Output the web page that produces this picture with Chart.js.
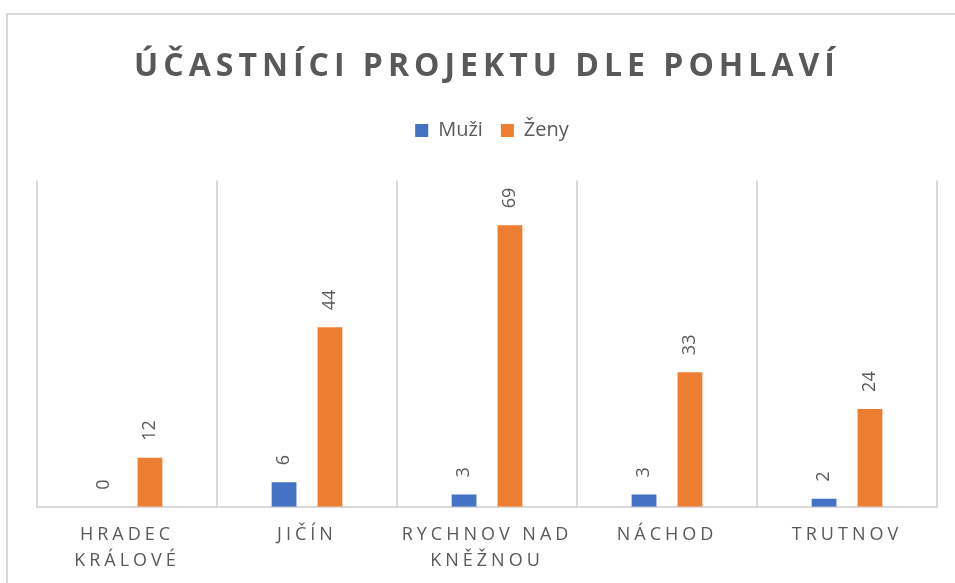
<!DOCTYPE html>
<html>
<head>
<meta charset="utf-8">
<script src="https://cdn.jsdelivr.net/npm/chart.js@4.4.1/dist/chart.umd.min.js"></script>
<style>
html, body { margin: 0; padding: 0; background: #fff; overflow: hidden; }
#frame { position: absolute; left: 6px; top: 13px; width: 2000px; height: 2000px; border: 2px solid #d9d9d9; }
#wrap { position: absolute; left: 0; top: 0; width: 955px; height: 583px; }
</style>
</head>
<body>
<div id="frame"></div>
<div id="wrap"><canvas id="chart"></canvas></div>
<script>
var categories = [['HRADEC', 'KRÁLOVÉ'], 'JIČÍN', ['RYCHNOV NAD', 'KNĚŽNOU'], 'NÁCHOD', 'TRUTNOV'];
var muzi = [0, 6, 3, 3, 2];
var zeny = [12, 44, 69, 33, 24];

Chart.defaults.font.family = '"Open Sans", sans-serif';
Chart.defaults.color = '#595959';

// wrap a draw method so its text gets letter spacing
function spaced(obj, name, spacing) {
    if (!obj || obj['_sp_' + name]) return;
    var orig = obj[name];
    obj['_sp_' + name] = true;
    obj[name] = function () {
        var c = this.ctx;
        var prev = c.letterSpacing;
        c.letterSpacing = spacing;
        var r = orig.apply(this, arguments);
        c.letterSpacing = prev || '0px';
        return r;
    };
}

var letterSpacing = {
    id: 'letterSpacing',
    beforeDraw: function (chart) {
        spaced(chart.titleBlock, 'draw', '5px');
        spaced(chart.scales.x, 'drawLabels', '4px');
    }
};

// extra room between legend and plot, legend nudged a bit right
var legendSpace = {
    id: 'legendSpace',
    beforeLayout: function (chart) {
        var lg = chart.legend;
        if (!lg || lg._spaced) return;
        lg._spaced = true;
        var fit = lg.fit;
        lg.fit = function () {
            fit.call(this);
            this.height += 32;
        };
        var draw = lg.draw;
        lg.draw = function () {
            this.ctx.save();
            this.ctx.translate(5, 2);
            draw.apply(this, arguments);
            this.ctx.restore();
        };
    }
};

// rotated value labels above bars
var barLabels = {
    id: 'barLabels',
    afterDatasetsDraw: function (chart) {
        var ctx = chart.ctx;
        ctx.save();
        ctx.font = '18px "Open Sans"';
        ctx.fillStyle = '#595959';
        ctx.textAlign = 'left';
        ctx.textBaseline = 'middle';
        chart.data.datasets.forEach(function (ds, i) {
            chart.getDatasetMeta(i).data.forEach(function (bar, j) {
                ctx.save();
                ctx.translate(bar.x, bar.y - 17);
                ctx.rotate(-Math.PI / 2);
                ctx.fillText(String(ds.data[j]), 0, 0);
                ctx.restore();
            });
        });
        ctx.restore();
    }
};

var chart = new Chart(document.getElementById('chart'), {
    type: 'bar',
    data: {
        labels: categories,
        datasets: [
            {
                label: 'Muži',
                data: muzi,
                backgroundColor: '#4472C4',
                categoryPercentage: 0.51,
                barPercentage: 0.54
            },
            {
                label: 'Ženy',
                data: zeny,
                backgroundColor: '#ED7D31',
                categoryPercentage: 0.51,
                barPercentage: 0.54
            }
        ]
    },
    options: {
        responsive: true,
        maintainAspectRatio: false,
        animation: false,
        layout: {padding: {left: 37, right: 18, top: 0, bottom: -6}},
        plugins: {
            title: {
                display: true,
                text: 'ÚČASTNÍCI PROJEKTU DLE POHLAVÍ',
                color: '#595959',
                font: {size: 32, weight: 'bold'},
                padding: {top: 48, bottom: 14}
            },
            legend: {
                labels: {boxWidth: 13, boxHeight: 13, padding: 18, color: '#595959', font: {size: 20}}
            },
            tooltip: {enabled: false}
        },
        scales: {
            x: {
                grid: {color: '#d9d9d9', lineWidth: 2, drawTicks: false},
                border: {color: '#d9d9d9', width: 2},
                ticks: {color: '#595959', font: {size: 18, lineHeight: 1.45}, padding: 15, maxRotation: 0, autoSkip: false}
            },
            y: {display: false, min: 0, max: 80}
        }
    },
    plugins: [letterSpacing, legendSpace, barLabels]
});
</script>
</body>
</html>
